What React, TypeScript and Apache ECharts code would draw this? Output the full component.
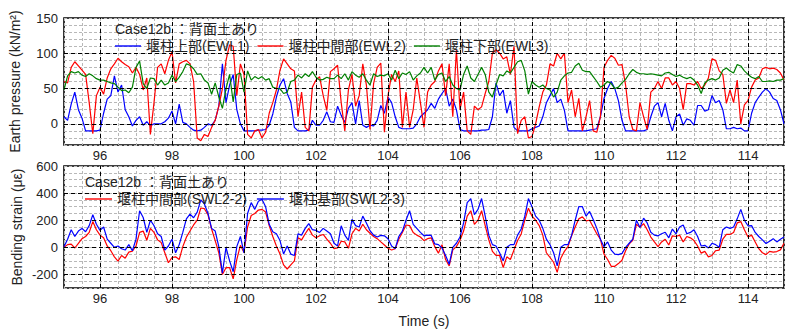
import { useEffect, useRef } from "react";
import * as echarts from "echarts";

// ---- data (sampled every 0.1 s from 95.0 s to 115.0 s) ----
const T_START = 95;
const T_STEP = 0.1;
const X_TICKS = [96, 98, 100, 102, 104, 106, 108, 110, 112, 114];
const TOP_Y_TICKS = [0, 50, 100, 150];
const BOT_Y_TICKS = [-200, 0, 200, 400, 600];

const EWL1 = [
  10, 5, 28, 45, 20, 8, -10, -10, -10, -10,
  -9, 15, 35, 40, 68, 45, 55, 20, 10, -3,
  5, 10, -2, 3, -3, 0, 0, 0, 3, 8,
  18, 0, 28, 2, 0, -5, -9, -10, -9, -5,
  0, -2, 5, 25, 85, 30, 55, 70, 20, 0,
  -10, -10, -10, -10, -9, -9, -8, -2, 14, 38,
  55, 64, 43, 31, -5, -10, -10, -10, -9, 5,
  -2, -2, 5, 17, 3, 2, 25, 12, 2, 22,
  30, 0, 33, -2, -5, -2, -3, 5, 26, 15,
  38, 30, 10, -5, -7, -7, -7, -6, 0, 10,
  15, 20, 29, 22, 35, 43, 50, 25, 35, 20,
  -8, -10, -10, -10, -10, -10, -9, -9, -8, 10,
  58, 40, 48, 15, 33, -5, -10, -10, -10, -10,
  -7, -5, -3, 10, 30, 40, 50, 30, 35, 19,
  -10, -10, -10, -10, -10, -10, -9, -8, -7, 10,
  36, 50, 60, 50, 33, 5, -10, -10, -10, -10,
  -10, -10, -8, 10, 25, 30, 10, 29, 5, -10,
  10, 14, -2, 7, 5, -2, 26, 26, 18, 20,
  40, 30, 33, 20, -7, -7, -5, -7, -6, -10,
  -10, 15, 30, 38, 45, 50, 45, 36, 33, 20,
  0,
];

const EWL2 = [
  60, 58, 80, 88, 82, 76, 70, 30, -14, 40,
  52, 42, 65, 78, 85, 93, 88, 84, 81, 72,
  80, 70, 48, 65, -15, 30, 80, 85, 71, 90,
  102, 58, 85, 88, 90, 85, 60, -20, -24, -15,
  -18, -5, 5, 25, 50, 90, 112, 110, 40, 85,
  70, -15, -20, -10, -8, -20, -12, 15, 30, 48,
  76, 92, 85, 78, 75, 10, 45, -5, -10, 52,
  62, 67, 40, 19, 74, 78, 83, 30, -10, 48,
  70, 25, 40, 85, 55, -8, 57, 80, 86, -12,
  40, 70, 60, 75, -5, 45, -5, 20, 65, 30,
  -5, 45, 55, 60, 75, 85, 40, 85, 10, 105,
  20, 45, -10, -15, 25, 20, 24, 43, 60, 100,
  105, 100, 92, 95, 70, 110, -14, 5, 10, -20,
  -18, 0, 24, 45, 55, 85, 82, 100, 92, 100,
  30, 48, 10, 36, -10, 10, 33, -10, -12, 10,
  80, 90, 97, 93, 83, 84, 55, 10, -8, -10,
  30, 10, -8, 45, 50, 60, 50, 65, 65, 55,
  60, 50, 20, 57, 57, 55, 60, 50, 55, 65,
  92, 90, 75, 70, 29, 48, 30, 62, 0, 27,
  33, 52, 62, 65, 78, 80, 78, 79, 77, 72,
  62,
];

const EWL3 = [
  48, 68, 74, 72, 74, 69, 67, 71, 68, 64,
  62, 62, 60, 58, 57, 52, 47, 48, 44, 52,
  80, 89, 57, 50, 65, 64, 55, 62, 55, 58,
  69, 60, 66, 74, 85, 83, 78, 70, 71, 62,
  58, 42, 58, 38, 22, 50, 70, 31, 70, 72,
  45, 75, 62, 67, 64, 67, 62, 64, 52, 50,
  50, 43, 45, 60, 62, 69, 65, 71, 67, 74,
  66, 62, 63, 66, 64, 64, 69, 64, 71, 62,
  74, 69, 66, 71, 62, 55, 71, 67, 69, 68,
  71, 62, 76, 64, 72, 70, 74, 62, 68, 72,
  80, 72, 80, 62, 70, 72, 60, 67, 55, 50,
  48, 70, 82, 65, 60, 70, 80, 70, 45, 38,
  55, 70, 68, 75, 72, 80, 88, 90, 75, 42,
  60, 55, 52, 55, 50, 48, 38, 45, 62, 68,
  72, 73, 82, 86, 76, 74, 74, 67, 60, 52,
  55, 60, 57, 50, 52, 58, 63, 71, 77, 73,
  71, 71, 70, 71, 70, 69, 68, 72, 73, 70,
  67, 69, 66, 64, 66, 62, 55, 43, 58, 62,
  64, 62, 65, 76, 79, 75, 72, 84, 82, 75,
  70, 66, 64, 67, 60, 60, 61, 60, 62, 62,
  64,
];

const SWL2_2 = [
  0, 20, 24, -5, 30, 64, 80, 110, 190, 130,
  90, 70, 10, -25, -70, -102, -60, -80, -35, -28,
  10, 110, 120, 52, 140, 110, 55, 35, -40, -114,
  -75, -70, -90, 5, 75, 120, 165, 200, 290, 285,
  240, 135, 50, -40, -200, -150, -150, -232, -90, 15,
  -38, 150, 235, 250, 275, 280, 260, 160, 80, 10,
  -50, -130, -160, -130, -100, 70, 55, 100, 140, 90,
  70, 85, 95, 60, 30, -10, -5, 45, 40, -7,
  100, 140, 120, 170, 130, 104, 80, 64, 40, 17,
  -7, -20, -10, 60, 110, 165, 160, 110, 90, 76,
  50, 64, 70, 5, -43, 20, -90, -137, -19, 5,
  52, 120, 230, 270, 170, 200, 270, 160, 55, -30,
  -60, -60, -149, -70, -90, -20, 50, 99, 200, 289,
  230, 200, 160, 90, -40, -75, -110, -185, -80, -30,
  5, 85, 150, 210, 225, 195, 200, 150, 100, 60,
  -50, -90, -140, -140, -120, -95, -25, 25, 52, 170,
  147, 175, 130, 76, 40, 5, 40, 60, 17, 85,
  80, 90, 40, 80, 70, 50, 10, -43, -30, -70,
  -60, -25, -20, 60, 95, 95, 110, 180, 190, 130,
  76, 90, 40, -10, -40, -54, -30, -35, -31, -19,
  30,
];

const SWL2_3 = [
  5, 60, 130, 80, 120, 140, 115, 160, 240, 170,
  125, 150, 60, 30, 0, 10, -10, -20, 20, -25,
  60, 270, 220, 110, 200, 160, 100, 80, -20, 10,
  60, -40, 20, 110, 210, 245, 218, 260, 350, 320,
  250, 140, 120, 5, -190, 0, -100, -180, 5, 80,
  -40, 250, 330, 280, 340, 355, 300, 170, 115, 100,
  50, -50, 10, -50, -60, 99, 90, 140, 175, 130,
  125, 110, 140, 120, 100, 30, 10, 159, 90, 52,
  206, 160, 150, 230, 180, 123, 90, 76, 88, 85,
  64, 10, -10, 80, 120, 200, 270, 170, 140, 110,
  85, 90, 88, 25, 20, -5, -60, -125, 0, 30,
  76, 180, 330, 360, 241, 280, 360, 230, 90, 20,
  10, -40, -100, 0, 20, 20, 90, 135, 230, 360,
  300, 230, 200, 140, 60, 20, -40, -137, 0, 20,
  20, 88, 200, 300, 300, 230, 265, 206, 140, 60,
  5, 40, -20, -50, -54, -45, 0, 30, 60, 200,
  147, 215, 180, 111, 90, 85, 100, 111, 70, 135,
  100, 150, 165, 100, 110, 130, 80, 10, 15, -5,
  30, 20, 0, 130, 150, 140, 150, 210, 280, 200,
  159, 160, 110, 80, 55, 28, 45, 64, 40, 60,
  76,
];

const NAMES_TOP = ["堰柱上部(EWL1)", "堰柱中間部(EWL2)", "堰柱下部(EWL3)"];
const NAMES_BOT = ["堰柱中間部(SWL2-2)", "堰柱基部(SWL2-3)"];
const CASE_LABEL = "Case12b ：背面土あり";

const LATIN = "'Liberation Sans', Arial, 'Noto Sans CJK JP', sans-serif";
const CJK = "'Liberation Sans', 'Noto Sans CJK JP', sans-serif";

const GRID_LEFT = 64;
const TOP_GRID_TOP = 18;

function toPairs(vals: number[]) {
  return vals.map((v, i) => [Math.round((T_START + i * T_STEP) * 10) / 10, v]);
}

export default function App() {
  const ref = useRef<HTMLDivElement>(null);
  useEffect(() => {
    if (!ref.current) return;
    const chart = echarts.init(ref.current, undefined, { renderer: "svg" });

    const minorLine = { show: true, lineStyle: { color: "#b8b8b8", type: [3, 2] as any, width: 1 } };
    const xAxisBase = (gridIndex: number, showName: boolean) => ({
      type: "value" as const,
      gridIndex,
      min: 95,
      max: 115,
      interval: 0.5,
      axisLine: { show: false },
      axisTick: { show: false },
      splitLine: minorLine,
      axisLabel: {
        customValues: X_TICKS,
        margin: 4,
        fontSize: 13,
        color: "#222",
        fontFamily: LATIN,
        hideOverlap: false,
      },
      name: showName ? "Time (s)" : "",
      nameLocation: "middle" as const,
      nameGap: 26,
      nameTextStyle: { fontSize: 14, color: "#222", fontFamily: LATIN },
    });

    const yLabel = (ticks: number[]) => ({
      customValues: ticks,
      margin: 6,
      fontSize: 13,
      color: "#222",
      fontFamily: LATIN,
      hideOverlap: false,
      showMinLabel: true,
      showMaxLabel: true,
    });

    const majorMark = (xs: number[], ys: number[]) => ({
      symbol: ["none", "none"],
      silent: true,
      label: { show: false },
      lineStyle: { color: "#000", type: [4, 3] as any, width: 1 },
      data: [...xs.map((x) => ({ xAxis: x })), ...ys.map((y) => ({ yAxis: y }))],
    });

    const lineSeries = (name: string, vals: number[], color: string, xi: number) => ({
      type: "line" as const,
      name,
      xAxisIndex: xi,
      yAxisIndex: xi,
      data: toPairs(vals),
      showSymbol: false,
      symbol: "none",
      z: 3,
      lineStyle: { color, width: 1.2 },
      itemStyle: { color },
    });

    const legendText = { fontSize: 14, color: "#222", fontFamily: CJK, lineHeight: 12 };
    const TOP_MAX = TOP_Y_TICKS[TOP_Y_TICKS.length - 1];

    chart.setOption({
      animation: false,
      backgroundColor: "#fff",
      grid: [
        { left: GRID_LEFT, right: 3, top: TOP_GRID_TOP, height: 127, show: true, borderColor: "#000", borderWidth: 1.6, backgroundColor: "#fff" },
        { left: GRID_LEFT, right: 3, top: 166, height: 127, show: true, borderColor: "#000", borderWidth: 1.6, backgroundColor: "#fff" },
      ],
      xAxis: [xAxisBase(0, false), xAxisBase(1, true)],
      yAxis: [
        {
          type: "value",
          gridIndex: 0,
          min: -30,
          max: TOP_MAX,
          interval: 10,
          axisLine: { show: false },
          axisTick: { show: false },
          splitLine: minorLine,
          axisLabel: yLabel(TOP_Y_TICKS.filter((v) => v < TOP_MAX)),
          name: "Earth pressure (kN/m²)",
          nameLocation: "middle",
          nameGap: 42,
          nameMoveOverlap: false,
          nameTextStyle: { fontSize: 14, color: "#222", fontFamily: LATIN },
        },
        {
          type: "value",
          gridIndex: 1,
          min: -300,
          max: 600,
          interval: 50,
          axisLine: { show: false },
          axisTick: { show: false },
          splitLine: minorLine,
          axisLabel: yLabel(BOT_Y_TICKS),
          name: "Bending strain (με)",
          nameLocation: "middle",
          nameGap: 40,
          nameMoveOverlap: false,
          nameTextStyle: { fontSize: 14, color: "#222", fontFamily: LATIN },
        },
      ],
      legend: [
        {
          data: NAMES_TOP,
          icon: "rect",
          left: 115,
          top: 39,
          itemWidth: 26,
          itemHeight: 1.4,
          itemGap: 8,
          padding: 0,
          textStyle: legendText,
        },
        {
          data: NAMES_BOT,
          icon: "rect",
          left: 85,
          top: 192,
          itemWidth: 27,
          itemHeight: 1.4,
          itemGap: 10,
          padding: 0,
          textStyle: legendText,
        },
      ],
      graphic: [
        { type: "text", left: 115, top: 22, z: 10, style: { text: CASE_LABEL, font: `14px ${CJK}`, fill: "#222", lineHeight: 13 } },
        { type: "text", left: 85, top: 175, z: 10, style: { text: CASE_LABEL, font: `14px ${CJK}`, fill: "#222", lineHeight: 13 } },
        {
          type: "text",
          z: 20,
          x: GRID_LEFT - 6,
          y: TOP_GRID_TOP,
          style: { text: String(TOP_MAX), font: `13px ${LATIN}`, fill: "#222", align: "right", verticalAlign: "middle" },
        },
      ],
      series: [
        {
          type: "line",
          xAxisIndex: 0,
          yAxisIndex: 0,
          data: [],
          z: 1,
          silent: true,
          markLine: majorMark(X_TICKS, TOP_Y_TICKS.filter((v) => v < TOP_MAX)),
        },
        {
          type: "line",
          xAxisIndex: 1,
          yAxisIndex: 1,
          data: [],
          z: 1,
          silent: true,
          markLine: majorMark(X_TICKS, BOT_Y_TICKS.filter((v) => v < 600)),
        },
        lineSeries(NAMES_TOP[0], EWL1, "#0000ff", 0),
        lineSeries(NAMES_TOP[1], EWL2, "#ff0000", 0),
        lineSeries(NAMES_TOP[2], EWL3, "#008000", 0),
        lineSeries(NAMES_BOT[0], SWL2_2, "#ff0000", 1),
        lineSeries(NAMES_BOT[1], SWL2_3, "#0000ff", 1),
      ],
    });
    return () => chart.dispose();
  }, []);

  return (
    <div
      ref={ref}
      style={{ position: "fixed", left: 0, top: 0, width: 787, height: 329, background: "#fff" }}
    />
  );
}
